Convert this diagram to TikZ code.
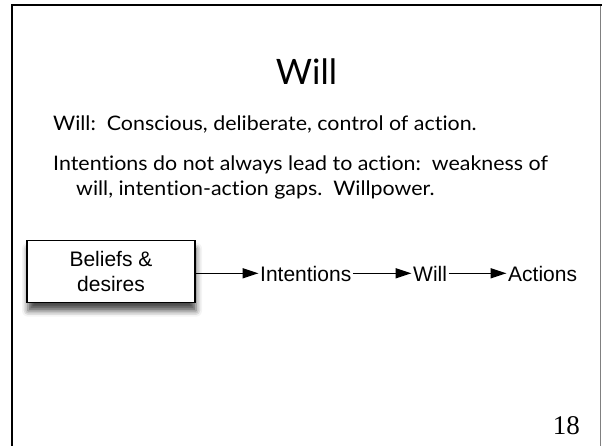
\documentclass[tikz,border=0pt]{standalone}
\usepackage{fontspec}
\setmainfont[Ligatures={NoCommon},FakeStretch=1.07]{Lato}
\newfontfamily\titlefont[Ligatures={NoCommon}]{Lato}
\newfontfamily\helv{Liberation Sans}
\newfontfamily\tms{Liberation Serif}
\usetikzlibrary{arrows.meta,shadows.blur}
\tikzset{
  frameline/.style={line width=2pt,line cap=rect},
  bodytext/.style={anchor=base west,inner sep=0pt,font=\fontsize{20}{24}\selectfont},
  titletext/.style={anchor=base,inner sep=0pt,font=\titlefont\fontsize{35}{40}\selectfont},
  flowbox/.style={draw,line width=1.5pt,fill=white,minimum width=168pt,minimum height=62pt,
    align=center,inner sep=0pt,font=\helv\fontsize{21}{25}\selectfont,
    blur shadow={shadow xshift=1pt,shadow yshift=-8pt,shadow blur radius=6pt,shadow opacity=70}},
  flowtext/.style={anchor=base west,inner ysep=0pt,inner xsep=1.5pt,text height=16.8pt,text depth=0pt,
    font=\helv\fontsize{21}{25}\selectfont},
  flowarrow/.style={line width=1.5pt,-{Triangle[length=16pt,width=10pt]}}
}
\begin{document}
\begin{tikzpicture}[x=1pt,y=1pt]
\useasboundingbox (0,0) rectangle (602,446);
% slide frame
\draw[gray,line width=1pt] (600,440.5) -- (600,0);
\draw[frameline] (12,0) -- (12,440.5) -- (601,440.5);
% title and text
\node[titletext] (title) at (306.5,361) {Will};
\node[bodytext] (l1) at (53,315) {Will:\ \ Conscious, deliberate, control of action.};
\node[bodytext] (l2) at (53,275) {Intentions do not always lead to action:\ \ weakness of};
\node[bodytext] (l3) at (76,250) {will, intention-action gaps.\ \ Willpower.};
% flow
\node[flowbox] (bd) at (111,174.3) {Beliefs \&\\desires};
\node[flowtext] (int) at (258.5,164.3) {Intentions};
\node[flowtext] (will) at (411.5,164.3) {Will};
\node[flowtext] (act) at (506.5,164.3) {Actions};
\draw[flowarrow] (bd.east |- int.west) -- (int.west);
\draw[flowarrow] (int.east) -- (will.west);
\draw[flowarrow] (will.east) -- (act.west);
% page number
\node[anchor=base east,inner sep=0pt,font=\tms\fontsize{27}{30}\selectfont] (num) at (580,11) {18};
\end{tikzpicture}
\end{document}
